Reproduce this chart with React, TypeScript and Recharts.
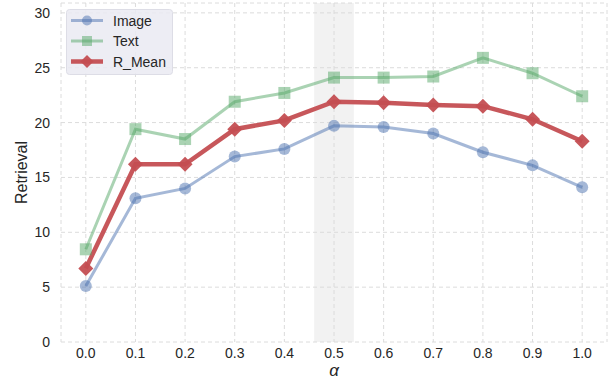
import { LineChart, Line, XAxis, YAxis, CartesianGrid, ReferenceArea } from "recharts"

const alphas = [0, 0.1, 0.2, 0.3, 0.4, 0.5, 0.6, 0.7, 0.8, 0.9, 1.0]
const imageScores = [5.1, 13.1, 14.0, 16.9, 17.6, 19.7, 19.6, 19.0, 17.3, 16.1, 14.1]
const textScores = [8.45, 19.4, 18.5, 21.9, 22.7, 24.1, 24.1, 24.2, 25.9, 24.5, 22.4]
const meanScores = [6.7, 16.2, 16.2, 19.4, 20.2, 21.9, 21.8, 21.6, 21.5, 20.3, 18.3]
const yTicks = [0, 5, 10, 15, 20, 25, 30]

const BLUE = "#4c72b0"
const GREEN = "#55a868"
const RED = "#c44e52"
const FONT = "'Liberation Sans', Arial, sans-serif"

const data = alphas.map((a, i) => ({
  alpha: a,
  image: imageScores[i],
  text: textScores[i],
  mean: meanScores[i],
}))

const circleDot = (p: any) => (
  <circle key={`c${p.index}`} cx={p.cx} cy={p.cy} r={6} fill={BLUE} fillOpacity={0.5} />
)
const squareDot = (p: any) => (
  <rect key={`s${p.index}`} x={p.cx - 6} y={p.cy - 6} width={12} height={12} fill={GREEN} fillOpacity={0.5} />
)
const diamondDot = (p: any) => (
  <path
    key={`d${p.index}`}
    d={`M${p.cx},${p.cy - 7.5}L${p.cx + 7.5},${p.cy}L${p.cx},${p.cy + 7.5}L${p.cx - 7.5},${p.cy}Z`}
    fill={RED}
    fillOpacity={0.95}
  />
)

const legendRows = [
  { name: "Image", color: BLUE, op: 0.5, w: 3, marker: "circle" },
  { name: "Text", color: GREEN, op: 0.5, w: 3, marker: "square" },
  { name: "R_Mean", color: RED, op: 0.95, w: 4.5, marker: "diamond" },
]

function LegendBox() {
  return (
    <svg width={108} height={67} style={{ display: "block" }}>
      <rect x={0.5} y={0.5} width={106} height={65} rx={3} fill="#eaeaf2" fillOpacity={0.85} stroke="#dddde6" />
      {legendRows.map((r, i) => {
        const y = 11.5 + i * 20.5
        return (
          <g key={r.name}>
            <line x1={5} x2={37} y1={y} y2={y} stroke={r.color} strokeOpacity={r.op} strokeWidth={r.w} />
            {r.marker === "circle" && <circle cx={21} cy={y} r={5} fill={r.color} fillOpacity={r.op} />}
            {r.marker === "square" && <rect x={16} y={y - 5} width={10} height={10} fill={r.color} fillOpacity={r.op} />}
            {r.marker === "diamond" && (
              <path d={`M21,${y - 6.5}L27.5,${y}L21,${y + 6.5}L14.5,${y}Z`} fill={r.color} fillOpacity={r.op} />
            )}
            <text x={47} y={y + 5} fontSize={14} fill="#262626" fontFamily={FONT}>
              {r.name}
            </text>
          </g>
        )
      })}
    </svg>
  )
}

export default function App() {
  return (
    <div style={{ position: "absolute", left: 0, top: 0, width: 608, height: 386, background: "#fff" }}>
      <LineChart width={608} height={386} data={data} margin={{ top: 3, right: 1, bottom: 0, left: 0 }}>
        <CartesianGrid stroke="#dcdcdc" strokeDasharray="4 3" />
        <ReferenceArea x1={0.46} x2={0.54} y1={0} y2={30.9} fill="#d9d9d9" fillOpacity={0.35} stroke="none" />
        <XAxis
          dataKey="alpha"
          type="number"
          domain={[-0.05, 1.05]}
          ticks={alphas}
          tickFormatter={(v: number) => v.toFixed(1)}
          axisLine={false}
          tickLine={false}
          tickSize={0}
          tickMargin={6}
          height={44}
          tick={{ fontSize: 14, fill: "#262626", fontFamily: FONT }}
          label={{ value: "α", position: "insideBottom", offset: 10, fontSize: 17, fontStyle: "italic", fill: "#262626", fontFamily: FONT }}
        />
        <YAxis
          type="number"
          domain={[0, 30.9]}
          ticks={yTicks}
          allowDataOverflow
          axisLine={false}
          tickLine={false}
          tickSize={0}
          tickMargin={11}
          width={61}
          tick={{ fontSize: 14, fill: "#262626", fontFamily: FONT }}
          label={{ value: "Retrieval", angle: -90, position: "insideLeft", offset: 21, fontSize: 16, fill: "#262626", fontFamily: FONT, style: { textAnchor: "middle" } }}
        />
        <Line dataKey="image" stroke={BLUE} strokeOpacity={0.5} strokeWidth={3} dot={circleDot} activeDot={false} isAnimationActive={false} />
        <Line dataKey="text" stroke={GREEN} strokeOpacity={0.5} strokeWidth={3} dot={squareDot} activeDot={false} isAnimationActive={false} />
        <Line dataKey="mean" stroke={RED} strokeOpacity={0.95} strokeWidth={4.5} dot={diamondDot} activeDot={false} isAnimationActive={false} />
      </LineChart>
      <div style={{ position: "absolute", left: 66, top: 9 }}>
        <LegendBox />
      </div>
    </div>
  )
}
